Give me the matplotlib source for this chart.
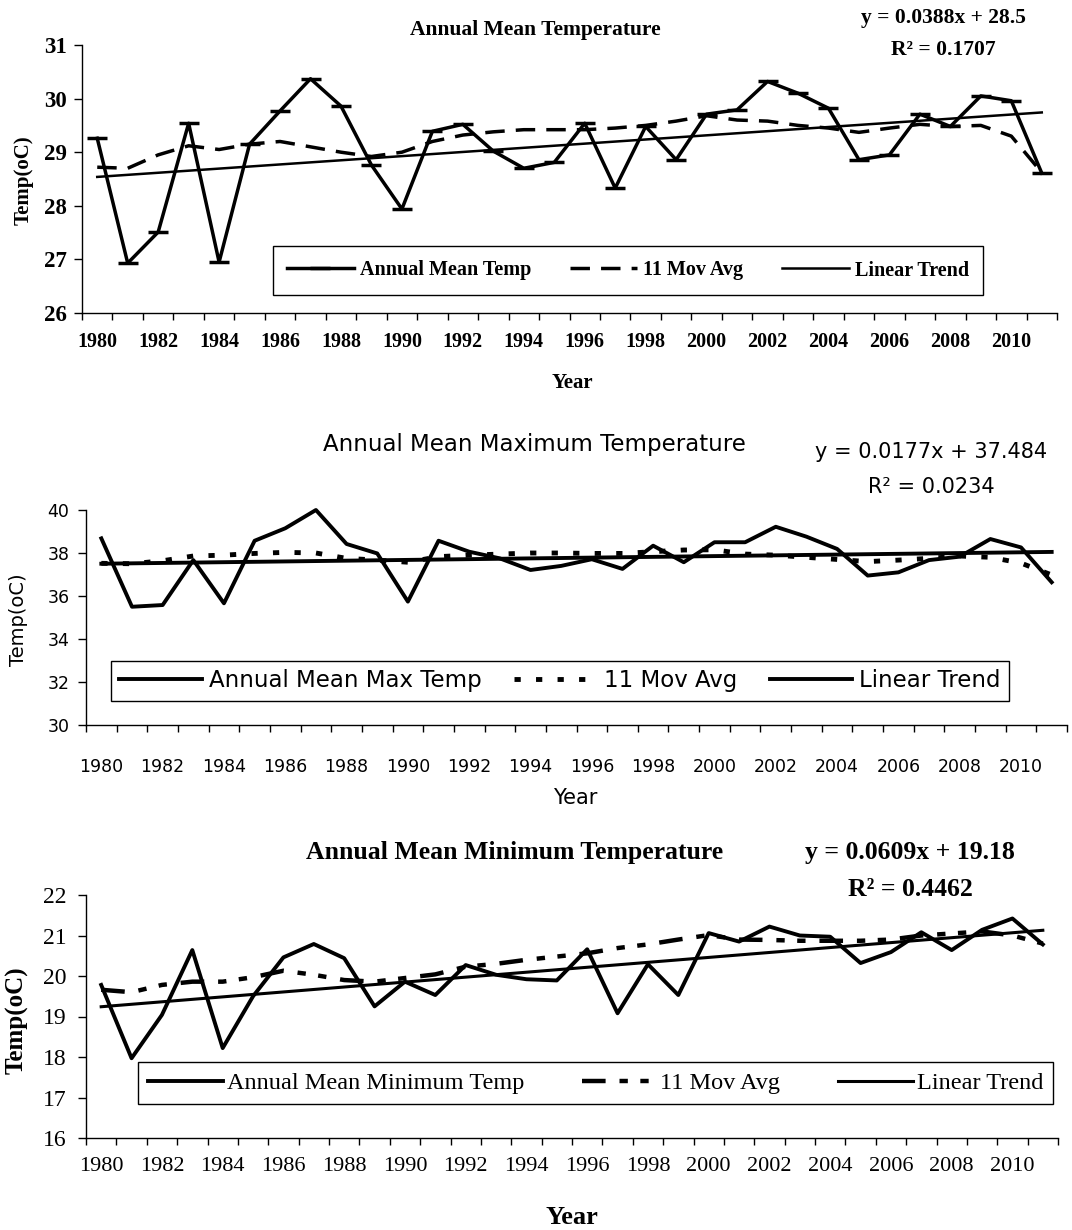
import numpy as np
import matplotlib.pyplot as plt

plt.rcParams['lines.scale_dashes'] = False

years = np.arange(1980, 2012)
x_idx = np.arange(1, 33)

# annual mean temperature (oC)
mean_temp = [29.26, 26.93, 27.51, 29.54, 26.95, 29.15, 29.77, 30.37, 29.86, 28.76,
             27.94, 29.39, 29.52, 29.02, 28.70, 28.81, 29.54, 28.33, 29.48, 28.86,
             29.71, 29.79, 30.32, 30.10, 29.82, 28.86, 28.95, 29.71, 29.48, 30.05,
             29.96, 28.61]
mean_mov = [28.72, 28.70, 28.95, 29.12, 29.05, 29.15, 29.20, 29.10, 29.00, 28.92,
            29.00, 29.20, 29.32, 29.38, 29.42, 29.42, 29.42, 29.45, 29.50, 29.58,
            29.68, 29.60, 29.58, 29.50, 29.45, 29.37, 29.45, 29.52, 29.48, 29.50,
            29.30, 28.62]
mean_fit = (0.0388, 28.5, 0.1707)

# annual mean maximum temperature
max_temp = [38.68, 35.50, 35.58, 37.67, 35.66, 38.57, 39.15, 40.00, 38.42, 37.98,
            35.74, 38.57, 38.06, 37.75, 37.21, 37.40, 37.71, 37.26, 38.34, 37.57,
            38.50, 38.50, 39.22, 38.76, 38.19, 36.95, 37.10, 37.67, 37.83, 38.65,
            38.26, 36.64]
max_mov = [37.52, 37.50, 37.64, 37.86, 37.90, 37.98, 38.03, 38.00, 37.75, 37.67,
           37.57, 37.83, 37.90, 37.95, 38.00, 38.00, 37.98, 37.98, 38.06, 38.14,
           38.15, 37.95, 37.90, 37.80, 37.70, 37.60, 37.67, 37.75, 37.86, 37.80,
           37.53, 36.98]
max_fit = (0.0177, 37.484, 0.0234)

# annual mean minimum temperature
min_temp = [19.78, 17.97, 19.04, 20.64, 18.22, 19.50, 20.46, 20.79, 20.44, 19.25,
            19.86, 19.53, 20.27, 20.03, 19.92, 19.89, 20.66, 19.08, 20.29, 19.53,
            21.06, 20.85, 21.22, 21.00, 20.97, 20.32, 20.59, 21.08, 20.64, 21.14,
            21.42, 20.78]
min_mov = [19.66, 19.60, 19.78, 19.86, 19.86, 19.97, 20.13, 20.03, 19.90, 19.86,
           19.95, 20.04, 20.23, 20.30, 20.40, 20.48, 20.56, 20.69, 20.78, 20.90,
           21.01, 20.90, 20.89, 20.87, 20.87, 20.87, 20.90, 21.00, 21.05, 21.10,
           21.00, 20.80]
min_fit = (0.0609, 19.18, 0.4462)

W, H = 1072, 1230
SERIF = 'Liberation Serif'
SANS = 'DejaVu Sans'


def box(l, t, r, b):
    return [l / W, 1 - b / H, (r - l) / W, (b - t) / H]


def fx(px):
    return px / W


def fy(py):
    return 1 - py / H


def setup(ax, ylo, yhi, family, weight, ysize, xsize, ypad, xpad):
    ax.set_xlim(1979.5, 2011.5)
    ax.set_ylim(ylo, yhi)
    for s in ['top', 'right']:
        ax.spines[s].set_visible(False)
    ax.spines['left'].set_linewidth(1.0)
    ax.spines['bottom'].set_linewidth(1.0)
    ax.set_yticks(np.arange(ylo, yhi + 1))
    ax.set_xticks(years[::2])
    ax.set_xticks(np.arange(1979.5, 2012, 1), minor=True)
    ax.tick_params(axis='x', which='major', length=0, pad=xpad)
    ax.tick_params(axis='x', which='minor', length=5, width=1, direction='out')
    ax.tick_params(axis='y', length=6, width=1, direction='out', pad=ypad)
    for t in ax.get_yticklabels():
        t.set_fontfamily(family)
        t.set_fontweight(weight)
        t.set_fontsize(ysize)
    for t in ax.get_xticklabels():
        t.set_fontfamily(family)
        t.set_fontweight(weight)
        t.set_fontsize(xsize)


fig = plt.figure(figsize=(W / 100, H / 100), dpi=100, facecolor='white')

# ---------- panel 1 ----------
ax1 = fig.add_axes(box(82, 45, 1057, 313))
ax1.plot(years, mean_temp, color='k', lw=2.5, marker='_', ms=14, mew=2.5,
         label='Annual Mean Temp', clip_on=False)
ax1.plot(years, mean_mov, color='k', lw=2.5, dashes=(14, 8), label='11 Mov Avg')
ax1.plot(years, mean_fit[0] * x_idx + mean_fit[1], color='k', lw=1.8,
         label='Linear Trend')
setup(ax1, 26, 31, SERIF, 'bold', 16.5, 14.5, 5, 14)
ax1.legend(loc='center', bbox_to_anchor=(fx(263), fy(297), fx(993) - fx(263), fy(244) - fy(297)),
           bbox_transform=fig.transFigure, mode='expand', ncol=3, frameon=True, fancybox=False,
           edgecolor='k', framealpha=1, handlelength=3.3, handletextpad=0.3, borderpad=0.7,
           prop={'family': SERIF, 'weight': 'bold', 'size': 14.5}).get_frame().set_linewidth(1.0)
fig.text(fx(535), fy(30), 'Annual Mean Temperature', ha='center', va='center',
         family=SERIF, weight='bold', fontsize=15.5)
fig.text(fx(943), fy(18), 'y = %.4fx + %.1f' % (mean_fit[0], mean_fit[1]), ha='center', va='center',
         family=SERIF, weight='bold', fontsize=15.5)
fig.text(fx(943), fy(50), 'R² = %.4f' % mean_fit[2], ha='center', va='center',
         family=SERIF, weight='bold', fontsize=15.5)
fig.text(fx(24), fy(180), 'Temp(oC)', rotation=90, ha='center', va='center',
         family=SERIF, weight='bold', fontsize=15)
fig.text(fx(572), fy(383), 'Year', ha='center', va='center',
         family=SERIF, weight='bold', fontsize=15)

# ---------- panel 2 ----------
ax2 = fig.add_axes(box(86, 510, 1067, 725))
ax2.plot(years, max_temp, color='k', lw=2.8, label='Annual Mean Max Temp', clip_on=False)
ax2.plot(years, max_mov, color='k', lw=3.5, dashes=(4.5, 11), label='11 Mov Avg')
ax2.plot(years, max_fit[0] * x_idx + max_fit[1], color='k', lw=2.8, label='Linear Trend')
setup(ax2, 30, 40, SANS, 'normal', 12.5, 12.5, 6, 24)
ax2.set_yticks(np.arange(30, 41, 2))
for t in ax2.get_yticklabels():
    t.set_fontfamily(SANS)
    t.set_fontsize(12.5)
ax2.legend(loc='center', bbox_to_anchor=(fx(100), fy(702), fx(1020) - fx(100), fy(660) - fy(702)),
           bbox_transform=fig.transFigure, mode='expand', ncol=3, frameon=True, fancybox=False,
           edgecolor='k', framealpha=1, handlelength=3.6, handletextpad=0.3, borderpad=0.35,
           prop={'family': SANS, 'size': 16.5}).get_frame().set_linewidth(1.0)
fig.text(fx(534), fy(445), 'Annual Mean Maximum Temperature', ha='center', va='center',
         family=SANS, fontsize=16.5)
fig.text(fx(931), fy(452), 'y = %.4fx + %.3f' % (max_fit[0], max_fit[1]), ha='center', va='center',
         family=SANS, fontsize=15)
fig.text(fx(931), fy(487), 'R² = %.4f' % max_fit[2], ha='center', va='center',
         family=SANS, fontsize=15)
fig.text(fx(19), fy(620), 'Temp(oC)', rotation=90, ha='center', va='center',
         family=SANS, fontsize=14)
fig.text(fx(575), fy(798), 'Year', ha='center', va='center', family=SANS, fontsize=15)

# ---------- panel 3 ----------
ax3 = fig.add_axes(box(86, 895, 1058, 1138))
ax3.plot(years, min_temp, color='k', lw=2.8, label='Annual Mean Minimum Temp')
ax3.plot(years, min_mov, color='k', lw=3.2, dashes=(17, 10, 6, 9, 6, 10), label='11 Mov Avg')
ax3.plot(years, min_fit[0] * x_idx + min_fit[1], color='k', lw=2.2, label='Linear Trend')
setup(ax3, 16, 22, SERIF, 'normal', 17, 16, 8, 14)
ax3.legend(loc='center', bbox_to_anchor=(fx(126), fy(1107), fx(1065) - fx(126), fy(1059) - fy(1107)),
           bbox_transform=fig.transFigure, mode='expand', ncol=3, frameon=True, fancybox=False,
           edgecolor='k', framealpha=1, handlelength=3.1, handletextpad=0.15, borderpad=0.4,
           prop={'family': SERIF, 'size': 17.5}).get_frame().set_linewidth(1.0)
fig.text(fx(515), fy(852), 'Annual Mean Minimum Temperature', ha='center', va='center',
         family=SERIF, weight='bold', fontsize=18.5)
fig.text(fx(910), fy(853), 'y = %.4fx + %.2f' % (min_fit[0], min_fit[1]), ha='center', va='center',
         family=SERIF, weight='bold', fontsize=18.5)
fig.text(fx(910), fy(890), 'R² = %.4f' % min_fit[2], ha='center', va='center',
         family=SERIF, weight='bold', fontsize=18.5)
fig.text(fx(17), fy(1020), 'Temp(oC)', rotation=90, ha='center', va='center',
         family=SERIF, weight='bold', fontsize=18)
fig.text(fx(572), fy(1218), 'Year', ha='center', va='center',
         family=SERIF, weight='bold', fontsize=19)

fig.savefig('out.png', dpi=100, facecolor='white')
